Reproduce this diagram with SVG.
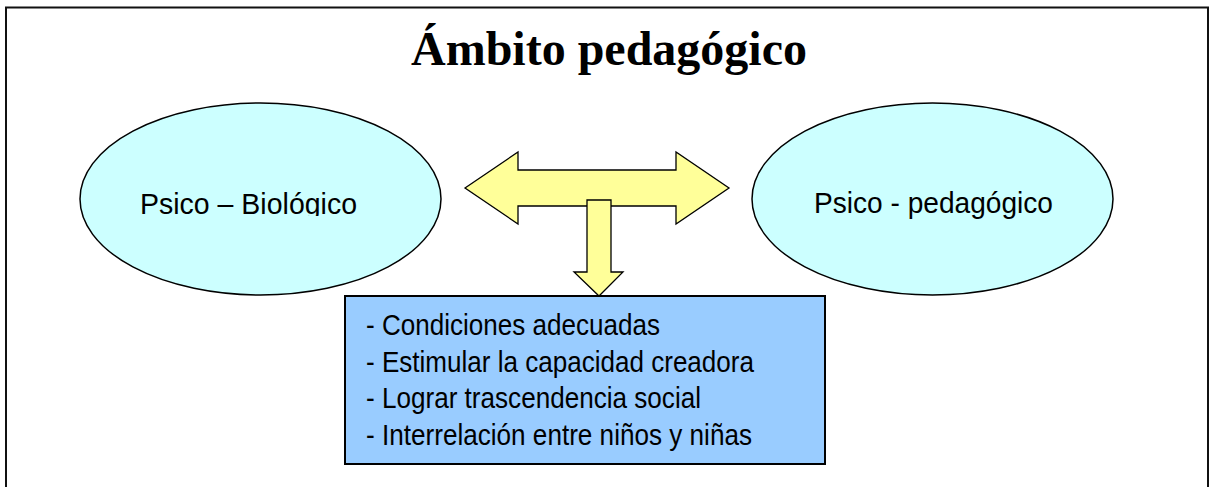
<svg xmlns="http://www.w3.org/2000/svg" width="1211" height="487" viewBox="0 0 1211 487">
<style>
.ell{fill:#CCFFFF;stroke:#000;stroke-width:1.5}
.arr{fill:#FFFF99;stroke:#000;stroke-width:1.3;stroke-linejoin:miter}
.lbl{font-family:"Liberation Sans",Arial,sans-serif;font-size:29px;fill:#000}
.item{font-family:"Liberation Sans",Arial,sans-serif;font-size:30px;fill:#000}
.title{font-family:"Liberation Serif","Times New Roman",serif;font-size:48px;font-weight:bold;fill:#000}
</style>
<defs>
<clipPath id="clipL"><rect x="100" y="150" width="320" height="66"/></clipPath>
</defs>
<rect x="6" y="7.5" width="1202" height="500" fill="#fff" stroke="#111" stroke-width="2"/>
<text class="title" x="609" y="65" text-anchor="middle">Ámbito pedagógico</text>
<g id="connectors">
<path class="arr" d="M465,188 L518,152 L518,170 L676,170 L676,152 L729,188 L676,224 L676,206 L518,206 L518,224 Z"/>
<path class="arr" d="M587,200 L611,200 L611,272 L623,272 L599,296 L574,272 L587,272 Z"/>
</g>
<g id="psico-biologico">
<ellipse class="ell" cx="260.5" cy="199" rx="180.5" ry="96"/>
<text class="lbl" x="140" y="214" clip-path="url(#clipL)" textLength="217" lengthAdjust="spacingAndGlyphs">Psico – Biológico</text>
</g>
<g id="psico-pedagogico">
<ellipse class="ell" cx="932.5" cy="199" rx="180.5" ry="96"/>
<text class="lbl" x="814" y="213" textLength="239" lengthAdjust="spacingAndGlyphs">Psico - pedagógico</text>
</g>
<g id="box">
<rect x="345" y="296" width="480" height="168" fill="#99CCFF" stroke="#000" stroke-width="2"/>
<text class="item" x="366" y="335" textLength="294" lengthAdjust="spacingAndGlyphs">- Condiciones adecuadas</text>
<text class="item" x="366" y="372" textLength="388" lengthAdjust="spacingAndGlyphs">- Estimular la capacidad creadora</text>
<text class="item" x="366" y="408" textLength="335" lengthAdjust="spacingAndGlyphs">- Lograr trascendencia social</text>
<text class="item" x="366" y="445" textLength="386" lengthAdjust="spacingAndGlyphs">- Interrelación entre niños y niñas</text>
</g>
</svg>
